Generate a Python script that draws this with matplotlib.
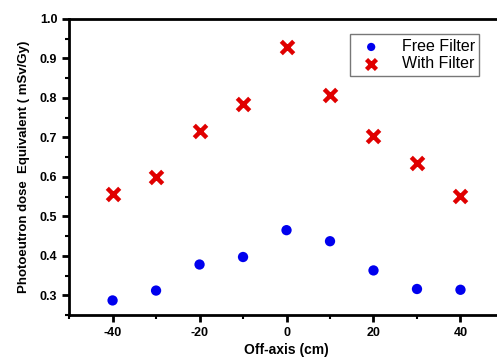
"""
Photoneutron dose equivalent vs off-axis distance, with and without filter.
"""

import matplotlib
matplotlib.use("Agg")
import matplotlib.pyplot as plt
from matplotlib.ticker import MultipleLocator

FIG_PATH = "out.png"

off_axis = [-40, -30, -20, -10, 0, 10, 20, 30, 40]
free_filter = [0.287, 0.312, 0.378, 0.397, 0.465, 0.437, 0.363, 0.316, 0.314]
with_filter = [0.556, 0.600, 0.717, 0.784, 0.928, 0.808, 0.703, 0.634, 0.551]


def main() -> None:
    plt.rcParams["font.family"] = ["Liberation Sans", "DejaVu Sans"]
    plt.rcParams["axes.unicode_minus"] = False

    fig = plt.figure(figsize=(4.97, 3.58), dpi=100)
    # right edge sits just past the image border, as in the original crop
    ax = fig.add_axes([0.139, 0.120, 0.875, 0.827])

    ax.scatter(off_axis, free_filter, s=55, marker="o", color="#0000ee",
               edgecolors="none", label="Free Filter", zorder=3)
    ax.scatter(off_axis, with_filter, s=80, marker="x", color="#e00000",
               linewidths=3.2, label="With Filter", zorder=3)

    ax.set_xlim(-50, 50)
    ax.set_ylim(0.25, 1.0)
    ax.xaxis.set_major_locator(MultipleLocator(20))
    ax.xaxis.set_minor_locator(MultipleLocator(10))
    ax.yaxis.set_major_locator(MultipleLocator(0.1))
    ax.yaxis.set_minor_locator(MultipleLocator(0.05))

    for side in ["left", "bottom", "top", "right"]:
        ax.spines[side].set_linewidth(2.0)

    ax.tick_params(which="major", direction="out", length=5, width=2,
                   labelsize=9)
    ax.tick_params(which="minor", direction="out", length=3, width=1.5)
    for lbl in ax.get_xticklabels() + ax.get_yticklabels():
        lbl.set_fontweight("bold")

    ax.set_xlabel("Off-axis (cm)", fontsize=10, fontweight="bold", labelpad=3)
    ax.set_ylabel("Photoeutron dose  Equivalent ( mSv/Gy)", fontsize=9.5,
                  fontweight="bold", labelpad=7)

    leg = ax.legend(loc="upper right", bbox_to_anchor=(0.962, 0.975),
                    fontsize=11.5, frameon=True, fancybox=False,
                    edgecolor="#555555", handletextpad=0.9,
                    borderpad=0.3, labelspacing=0.1, markerscale=0.8)
    leg.get_frame().set_linewidth(1.0)

    fig.savefig(FIG_PATH, dpi=100)
    plt.close(fig)


if __name__ == "__main__":
    main()
